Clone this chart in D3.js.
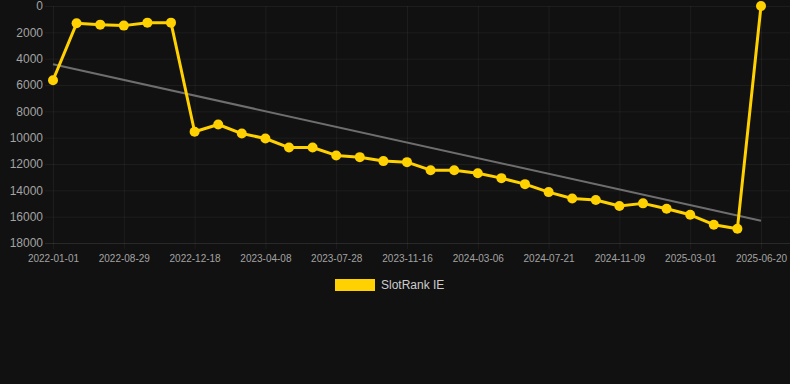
<!DOCTYPE html>
<html>
<head>
<meta charset="utf-8">
<script src="https://cdn.jsdelivr.net/npm/d3@7"></script>
<style>
  html, body { margin: 0; padding: 0; background: #111111; }
  svg { display: block; font-family: "Liberation Sans", Arial, sans-serif; }
</style>
</head>
<body>
<script>
// point dates (only every 3rd is labelled on the axis)
let dates = [
    "2022-01-01", "2022-04-21", "2022-07-23", "2022-08-29", "2022-10-05", "2022-11-11",
    "2022-12-18", "2023-01-24", "2023-03-02", "2023-04-08", "2023-05-15", "2023-06-21",
    "2023-07-28", "2023-09-03", "2023-10-10", "2023-11-16", "2023-12-23", "2024-01-29",
    "2024-03-06", "2024-04-28", "2024-06-12", "2024-07-21", "2024-08-27", "2024-10-03",
    "2024-11-09", "2024-12-16", "2025-01-22", "2025-03-01", "2025-04-07", "2025-05-14",
    "2025-06-20"
];
let ranks = [
    5640, 1315, 1415, 1490, 1265, 1265,
    9550, 9000, 9690, 10065, 10750, 10750,
    11350, 11480, 11780, 11860, 12470, 12470,
    12700, 13075, 13530, 14135, 14615, 14740,
    15195, 14990, 15400, 15855, 16610, 16915,
    0
];
let yTicks = [0, 2000, 4000, 6000, 8000, 10000, 12000, 14000, 16000, 18000];
let seriesName = "SlotRank IE";

let width = 790, height = 384;
let margin = {top: 6, right: 29, bottom: 141, left: 53};
let lineColor = "#ffd100";

let svg = d3.select("body").append("svg")
    .attr("width", width)
    .attr("height", height);

let x = d3.scalePoint(dates, [margin.left, width - margin.right]);
let y = d3.scaleLinear([0, 18000], [margin.top, height - margin.bottom]);

// y axis + horizontal grid
let yAxis = svg.append("g")
    .attr("transform", `translate(${margin.left},0)`)
    .call(d3.axisLeft(y).tickValues(yTicks).tickSize(8).tickPadding(2).tickFormat(d3.format("d")));
yAxis.select(".domain").remove();
yAxis.selectAll(".tick line")
    .attr("x1", -8)
    .attr("x2", width - margin.left)
    .attr("stroke", "#ffffff")
    .attr("stroke-opacity", d => d === 18000 ? 0.1 : 0.05);
yAxis.selectAll(".tick text")
    .attr("fill", "#a3a3a3")
    .style("font-size", "12px")
    .attr("x", -10);

// x axis + vertical grid
let labelDates = dates.filter((d, i) => i % 3 === 0);
let xAxis = svg.append("g")
    .attr("transform", `translate(0,${height - margin.bottom})`)
    .call(d3.axisBottom(x).tickValues(labelDates).tickSize(6).tickPadding(6));
xAxis.select(".domain").remove();
xAxis.selectAll(".tick line")
    .attr("y1", -(height - margin.bottom - margin.top))
    .attr("y2", 6)
    .attr("stroke", "#ffffff")
    .attr("stroke-opacity", 0.05);
xAxis.selectAll(".tick text")
    .attr("fill", "#a3a3a3")
    .style("font-size", "10px");

// linear trend over the series
let n = ranks.length;
let xm = d3.mean(ranks, (d, i) => i);
let ym = d3.mean(ranks);
let slope = d3.sum(ranks, (d, i) => (i - xm) * (d - ym)) / d3.sum(ranks, (d, i) => (i - xm) * (i - xm));
let intercept = ym - slope * xm;
svg.append("line")
    .attr("x1", x(dates[0]))
    .attr("y1", y(intercept))
    .attr("x2", x(dates[n - 1]))
    .attr("y2", y(intercept + slope * (n - 1)))
    .attr("stroke", "#6e6e6e")
    .attr("stroke-width", 2);

// series
let pts = dates.map((d, i) => [d, ranks[i]]);
svg.append("path")
    .datum(pts)
    .attr("fill", "none")
    .attr("stroke", lineColor)
    .attr("stroke-width", 3)
    .attr("stroke-linejoin", "round")
    .attr("d", d3.line().x(d => x(d[0])).y(d => y(d[1])));

svg.append("g")
    .selectAll("circle")
    .data(pts)
    .join("circle")
    .attr("cx", d => x(d[0]))
    .attr("cy", d => y(d[1]))
    .attr("r", 5)
    .attr("fill", lineColor);

// legend
let legend = svg.append("g").attr("transform", "translate(335,279)");
legend.append("rect")
    .attr("width", 40)
    .attr("height", 12)
    .attr("fill", lineColor);
legend.append("text")
    .attr("x", 46)
    .attr("y", 10)
    .attr("fill", "#cccccc")
    .style("font-size", "12px")
    .text(seriesName);
</script>
</body>
</html>
